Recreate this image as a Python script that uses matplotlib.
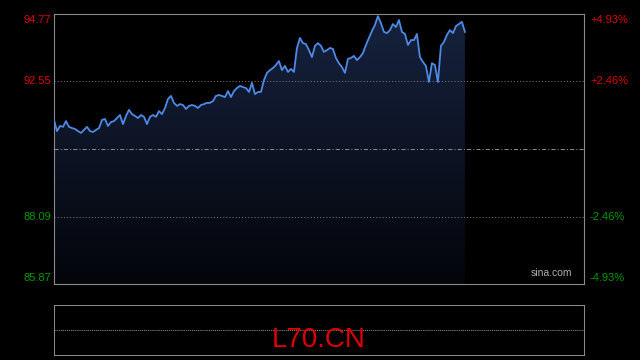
import numpy as np
import matplotlib
matplotlib.use("Agg")
import matplotlib.pyplot as plt

plt.rcParams["font.family"] = ["Liberation Sans", "DejaVu Sans"]

# intraday prices (one point per step), previous close in the middle
prices = [
    91.28, 90.91, 91.08, 91.05, 91.24, 91.05, 91.01, 90.98, 90.91, 90.85,
    90.95, 91.05, 90.91, 90.88, 90.95, 91.01, 91.28, 91.31, 91.08, 91.21,
    91.24, 91.34, 91.44, 91.14, 91.41, 91.61, 91.47, 91.41, 91.34, 91.44,
    91.38, 91.14, 91.38, 91.44, 91.38, 91.57, 91.47, 91.67, 91.97, 92.07,
    91.84, 91.74, 91.80, 91.77, 91.64, 91.74, 91.77, 91.74, 91.67, 91.77,
    91.80, 91.84, 91.84, 91.90, 92.07, 92.10, 92.07, 92.03, 92.23, 92.03,
    92.23, 92.33, 92.40, 92.36, 92.33, 92.20, 92.50, 92.13, 92.20, 92.20,
    92.59, 92.83, 92.92, 92.99, 93.09, 93.22, 92.92, 93.06, 92.86, 92.96,
    92.86, 93.65, 93.98, 93.81, 93.78, 93.58, 93.35, 93.72, 93.81, 93.72,
    93.52, 93.58, 93.65, 93.62, 93.32, 93.15, 93.02, 92.83, 93.29, 93.32,
    93.39, 93.25, 93.35, 93.48, 93.75, 93.98, 94.21, 94.41, 94.70, 94.47,
    94.18, 94.14, 94.24, 94.44, 94.34, 94.57, 94.18, 94.11, 93.75, 93.91,
    93.91, 94.11, 93.35, 93.19, 93.06, 92.53, 93.15, 93.09, 92.53, 93.72,
    93.85, 94.08, 94.24, 94.14, 94.37, 94.44, 94.51, 94.18,
]
session_steps = 176.7
price_ticks = [94.77, 92.55, 90.32, 88.09, 85.87]
pct_labels = ["+4.93%", "+2.46%", "", "-2.46%", "-4.93%"]
symbol = "L70.CN"

y_min, y_max = price_ticks[-1], price_ticks[0]
mid = price_ticks[2]
red = "#e00000"
green = "#009900"
border = "#8a8a8a"

fig = plt.figure(figsize=(6.4, 3.6), dpi=100, facecolor="black")
ax = fig.add_axes([54 / 640, 1 - 284 / 360, 530 / 640, 270 / 360])
ax.set_facecolor("black")

x = np.arange(len(prices))
poly = ax.fill_between(x, prices, y_min, color="none", lw=0)
grad = np.linspace(0, 1, 256).reshape(-1, 1)
cmap = matplotlib.colors.LinearSegmentedColormap.from_list("g", ["#03050a", "#16223e"])
img = ax.imshow(grad, cmap=cmap, aspect="auto", origin="lower",
                extent=[0, x[-1], y_min, max(prices)], zorder=1)
img.set_clip_path(poly.get_paths()[0], transform=ax.transData)
ax.set_xlim(0, session_steps)
ax.set_ylim(y_min, y_max)

ax.plot(x, prices, color="#4d8ae8", lw=1.3, zorder=3)

for p in (price_ticks[1], price_ticks[3]):
    ax.axhline(p, color="#777777", lw=0.75, ls=(0, (1, 2)), zorder=2)
ax.axhline(mid, color="#888888", lw=0.75, ls=(0, (4, 2, 1, 2)), zorder=2)

for s in ax.spines.values():
    s.set_color(border)
    s.set_linewidth(0.8)
ax.set_xticks([])
ax.set_yticks([])

# axis labels, kept inside the box at the ends
offsets = [-6, 0, 0, 0, 6]
for p, lab, off in zip(price_ticks, pct_labels, offsets):
    if p == mid:
        continue
    c = red if p > mid else green
    ax.annotate(f"{p:.2f}", xy=(0, p), xycoords=("axes fraction", "data"),
                xytext=(-3, off), textcoords="offset pixels",
                ha="right", va="center", color=c, fontsize=8)
    ax.annotate(lab, xy=(1, p), xycoords=("axes fraction", "data"),
                xytext=(6, off), textcoords="offset pixels",
                ha="left", va="center", color=c, fontsize=8)

ax.text(0.978, 0.022, "sina.com", transform=ax.transAxes, ha="right", va="bottom",
        color="#b0b0b0", fontsize=7.5)

# bottom panel
ax2 = fig.add_axes([54 / 640, 1 - 355 / 360, 530 / 640, 50 / 360])
ax2.set_facecolor("black")
ax2.set_xlim(0, 1)
ax2.set_ylim(0, 1)
ax2.set_xticks([])
ax2.set_yticks([])
for k, s in ax2.spines.items():
    s.set_color(border)
    s.set_linewidth(0.75)
    if k in ("top", "bottom"):
        s.set_linestyle((0, (1, 1)))
ax2.axhline(0.5, color=border, lw=0.75, ls=(0, (1, 1)))
ax2.text(0.5, 0.3, symbol, ha="center", va="center", color=red, fontsize=20)

fig.savefig("out.png", dpi=100, facecolor="black")
